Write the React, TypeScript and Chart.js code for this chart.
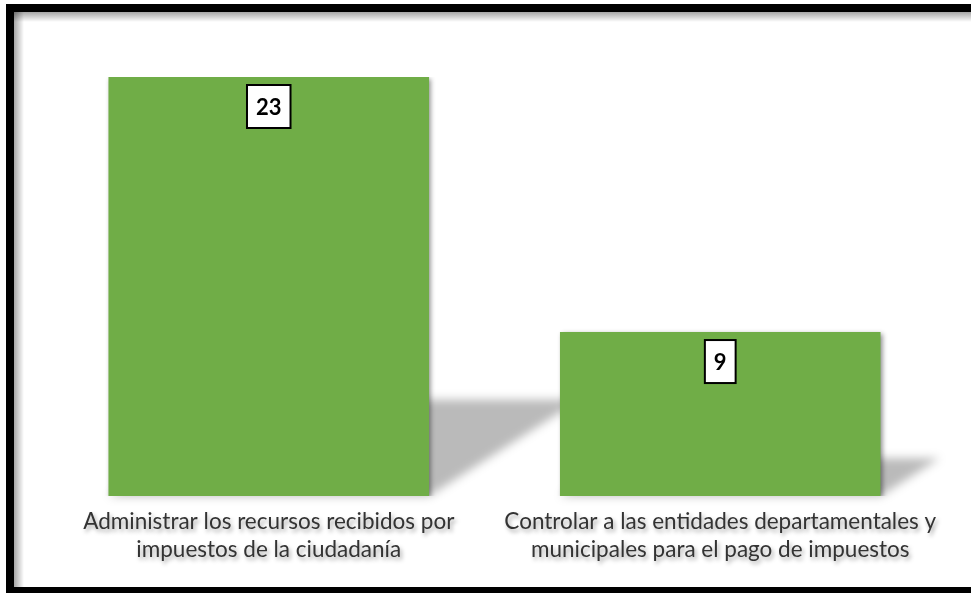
import React, { useEffect, useRef } from "react";
import { Chart, registerables } from "chart.js";

Chart.register(...registerables);

const categories: string[][] = [
  ["Administrar los recursos recibidos por", "impuestos de la ciudadanía"],
  ["Controlar a las entidades departamentales y", "municipales para el pago de impuestos"],
];
const values: number[] = [23, 9];

const GREEN = "#70AD47";
const FONT = "Lato, 'DejaVu Sans', sans-serif";

const framePlugin = {
  id: "frame",
  beforeDraw(chart: any) {
    const ctx = chart.ctx as CanvasRenderingContext2D;
    const W = chart.width;
    const H = chart.height;
    ctx.save();
    ctx.fillStyle = "#ffffff";
    ctx.fillRect(0, 0, W, H);
    let g = ctx.createLinearGradient(0, 12, 0, 22);
    g.addColorStop(0, "rgba(0,0,0,0.35)");
    g.addColorStop(1, "rgba(0,0,0,0)");
    ctx.fillStyle = g;
    ctx.fillRect(14, 12, W - 14, 10);
    g = ctx.createLinearGradient(14, 0, 24, 0);
    g.addColorStop(0, "rgba(0,0,0,0.35)");
    g.addColorStop(1, "rgba(0,0,0,0)");
    ctx.fillStyle = g;
    ctx.fillRect(14, 12, 10, H - 12);
    ctx.fillStyle = "#000000";
    ctx.fillRect(6, 4, W - 6, 8);
    ctx.fillRect(6, 4, 8, H - 4);
    ctx.fillRect(6, 587, W - 6, H - 587);
    ctx.restore();
    ctx.shadowColor = "rgba(0,0,0,0.35)";
    ctx.shadowBlur = 4;
    ctx.shadowOffsetX = 2;
    ctx.shadowOffsetY = 3;
  },
  beforeDatasetsDraw(chart: any) {
    const ctx = chart.ctx as CanvasRenderingContext2D;
    ctx.shadowColor = "rgba(0,0,0,0)";
    ctx.shadowBlur = 0;
    ctx.shadowOffsetX = 0;
    ctx.shadowOffsetY = 0;
    const meta = chart.getDatasetMeta(0);
    ctx.save();
    (ctx as any).filter = "blur(5px)";
    ctx.fillStyle = "rgba(0,0,0,0.27)";
    meta.data.forEach((bar: any) => {
      const w = bar.width;
      const x0 = bar.x - w / 2;
      const x1 = bar.x + w / 2;
      const h = bar.base - bar.y;
      const dx = h * 0.36;
      const dy = h * 0.23;
      ctx.beginPath();
      ctx.moveTo(x0, bar.base);
      ctx.lineTo(x1, bar.base);
      ctx.lineTo(x1 + dx, bar.base - dy);
      ctx.lineTo(x0 + dx, bar.base - dy);
      ctx.closePath();
      ctx.fill();
    });
    ctx.restore();
    ctx.shadowColor = "rgba(0,0,0,0.45)";
    ctx.shadowBlur = 5;
    ctx.shadowOffsetX = 2;
    ctx.shadowOffsetY = 2;
  },
  afterDatasetsDraw(chart: any) {
    const ctx = chart.ctx as CanvasRenderingContext2D;
    ctx.shadowColor = "rgba(0,0,0,0)";
    ctx.shadowBlur = 0;
    ctx.shadowOffsetX = 0;
    ctx.shadowOffsetY = 0;
    const meta = chart.getDatasetMeta(0);
    const ds = chart.data.datasets[0];
    ctx.save();
    ctx.font = "bold 22px " + FONT;
    meta.data.forEach((bar: any, i: number) => {
      const txt = String(ds.data[i]);
      const tw = ctx.measureText(txt).width;
      const bw = tw + 18;
      const bh = 43;
      const bx = bar.x - bw / 2;
      const by = bar.y + 8;
      ctx.fillStyle = "#ffffff";
      ctx.fillRect(bx, by, bw, bh);
      ctx.lineWidth = 2;
      ctx.strokeStyle = "#000000";
      ctx.strokeRect(bx, by, bw, bh);
      ctx.fillStyle = "#000000";
      ctx.textAlign = "center";
      ctx.textBaseline = "middle";
      ctx.fillText(txt, bar.x, by + bh / 2 + 1);
    });
    ctx.restore();
  },
};

export default function App() {
  const ref = useRef<HTMLCanvasElement | null>(null);
  useEffect(() => {
    if (!ref.current) return;
    const chart = new Chart(ref.current, {
      type: "bar",
      data: {
        labels: categories,
        datasets: [
          {
            data: values,
            backgroundColor: GREEN,
            borderWidth: 0,
            barPercentage: 0.71,
            categoryPercentage: 1,
          },
        ],
      },
      options: {
        animation: false,
        responsive: false,
        devicePixelRatio: 1,
        layout: { padding: { left: 43, right: 25, top: 77, bottom: 17 } },
        plugins: { legend: { display: false }, tooltip: { enabled: false } },
        scales: {
          y: { display: false, min: 0, max: 23 },
          x: {
            grid: { display: false, drawTicks: false },
            border: { display: false },
            ticks: {
              color: "#333333",
              padding: 12,
              maxRotation: 0,
              autoSkip: false,
              font: { family: FONT, size: 22.5, lineHeight: "28px" },
            },
          },
        },
      },
      plugins: [framePlugin],
    });
    return () => chart.destroy();
  }, []);
  return (
    <div style={{ position: "fixed", left: 0, top: 0, width: 971, height: 593, background: "#fff" }}>
      <canvas ref={ref} width={971} height={593} />
    </div>
  );
}
